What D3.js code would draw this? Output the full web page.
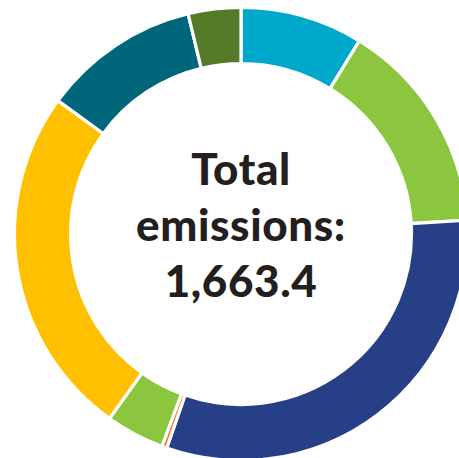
<!DOCTYPE html>
<html>
<head>
<meta charset="utf-8">
<script src="https://cdn.jsdelivr.net/npm/d3@7"></script>
<style>
  html, body { margin: 0; padding: 0; background: #fff; }
  svg { display: block; }
  .centre-label { font-family: "Lato", "Open Sans", sans-serif; font-weight: 900; fill: #231f20; }
</style>
</head>
<body>
<div id="chart"></div>
<script>
// Emission categories, clockwise from 12 o'clock
const categories = ["Category 1", "Category 2", "Category 3", "Category 4", "Category 5", "Category 6", "Category 7", "Category 8"]
const values = [145.5, 254.1, 520.5, 6.0, 69.5, 418.6, 186.7, 62.4]
const colours = ["#00a8cb", "#8cc63f", "#263f87", "#f47920", "#8cc63f", "#ffc000", "#00667a", "#547a27"]
const centreLines = ["Total", "emissions:", "1,663.4"]

const width = 459
const height = 458
const cx = 241
const cy = 234
const outerR = 226.5
const innerR = 170.5

const svg = d3.select("#chart")
  .append("svg")
  .attr("width", width)
  .attr("height", height)

const g = svg.append("g").attr("transform", `translate(${cx},${cy})`)

const data = categories.map((c, i) => ({ name: c, value: values[i], colour: colours[i] }))

const pie = d3.pie().value((d) => d.value).sort(null)
const arc = d3.arc().innerRadius(innerR).outerRadius(outerR)

g.selectAll("path.slice")
  .data(pie(data))
  .join("path")
  .attr("class", "slice")
  .attr("d", arc)
  .attr("fill", (d) => d.data.colour)
  .attr("stroke", "#fff")
  .attr("stroke-width", 3.2)
  .attr("stroke-linejoin", "miter")

// centre text, baselines ~56px apart
const baselines = [-49, 7, 63]
g.selectAll("text.centre-label")
  .data(centreLines)
  .join("text")
  .attr("class", "centre-label")
  .attr("text-anchor", "middle")
  .attr("x", 0)
  .attr("y", (d, i) => baselines[i])
  .attr("font-size", 44)
  .attr("letter-spacing", 0.6)
  .text((d) => d)
</script>
</body>
</html>
